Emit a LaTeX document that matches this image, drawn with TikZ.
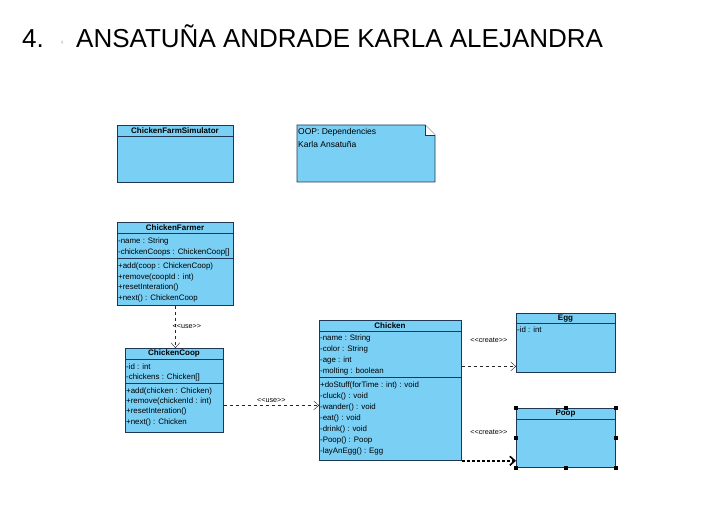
\documentclass[tikz,border=0pt]{standalone}
\usepackage{fontspec}
\setmainfont{Liberation Sans}
\usetikzlibrary{arrows.meta}
\definecolor{boxfill}{RGB}{122,207,245}
\definecolor{boxline}{RGB}{30,55,85}
\tikzset{
  umlbox/.style={draw=boxline, line width=0.8pt, fill=boxfill, anchor=north west, inner sep=0pt},
  member/.style={anchor=west, inner sep=0.5pt, font=\fontsize{7.9}{8}\selectfont},
  notetext/.style={anchor=west, inner sep=0.5pt, font=\fontsize{8.5}{9}\selectfont},
  header/.style={inner sep=0pt, font=\fontsize{8}{8}\selectfont\bfseries},
  stereo/.style={inner sep=0pt, font=\fontsize{7.2}{7}\selectfont},
  dep/.style={draw=black!85, dashed, -{Straight Barb[length=5pt,width=9pt]}},
  handle/.style={fill=black, minimum size=3.5pt, inner sep=0pt}
}
\newcommand{\stereotype}[1]{{<}{<}#1{>}{>}}
\begin{document}
\begin{tikzpicture}[x=1pt,y=-1pt]
\useasboundingbox (0,0) rectangle (713,513);
% title
\node[anchor=base west, inner sep=0pt, font=\fontsize{26}{30}\selectfont] (num) at (22,48) {4.};
\node[anchor=base west, inner sep=0pt, font=\fontsize{7}{8}\selectfont, text=black!45] (tick) at (61,45) {‹};
\node[anchor=base west, inner sep=0pt, font=\fontsize{26}{30}\selectfont] (title) at (76,48) {ANSATUÑA ANDRADE KARLA ALEJANDRA};

% ChickenFarmSimulator
\node[umlbox, minimum width=116pt, minimum height=57pt] (sim) at (117,125) {};
\draw[boxline, line width=0.8pt] (117,136) -- (233,136);
\node[header] (simname) at (175,130.5) {ChickenFarmSimulator};

% note
\draw[boxline, line width=0.8pt, fill=boxfill] (297,125) -- (425,125) -- (435,135) -- (435,182) -- (297,182) -- cycle;
\fill[white] (425,125) -- (425,135) -- (435,135) -- cycle;
\draw[boxline, line width=0.8pt] (425,125) -- (425,135) -- (435,135);
\node[notetext] (note1) at (297.5,132) {OOP: Dependencies};
\node[notetext] (note2) at (297.5,144) {Karla Ansatuña};

% ChickenFarmer
\node[umlbox, minimum width=116pt, minimum height=83pt] (farmer) at (117,222) {};
\draw[boxline, line width=0.8pt] (117,233) -- (233,233);
\draw[boxline, line width=0.8pt] (117,258) -- (233,258);
\node[header] (farmername) at (175,227.5) {ChickenFarmer};
\node[member] at (117.5,241) {-name : String};
\node[member] at (117.5,252) {-chickenCoops : ChickenCoop[]};
\node[member] at (117.5,266) {+add(coop : ChickenCoop)};
\node[member] at (117.5,277) {+remove(coopId : int)};
\node[member] at (117.5,287.5) {+resetInteration()};
\node[member] at (117.5,298) {+next() : ChickenCoop};

% ChickenCoop
\node[umlbox, minimum width=98pt, minimum height=84pt] (coop) at (125,348) {};
\draw[boxline, line width=0.8pt] (125,359) -- (223,359);
\draw[boxline, line width=0.8pt] (125,383) -- (223,383);
\node[header] (coopname) at (174,353.5) {ChickenCoop};
\node[member] at (125.5,367) {-id : int};
\node[member] at (125.5,377) {-chickens : Chicken[]};
\node[member] at (125.5,391) {+add(chicken : Chicken)};
\node[member] at (125.5,401) {+remove(chickenId : int)};
\node[member] at (125.5,411.5) {+resetInteration()};
\node[member] at (125.5,422) {+next() : Chicken};

% Chicken
\node[umlbox, minimum width=142pt, minimum height=140pt] (chicken) at (319,320) {};
\draw[boxline, line width=0.8pt] (319,331) -- (461,331);
\draw[boxline, line width=0.8pt] (319,377) -- (461,377);
\node[header] (chickenname) at (390,325.5) {Chicken};
\node[member] at (319.5,338.5) {-name : String};
\node[member] at (319.5,349.5) {-color : String};
\node[member] at (319.5,360) {-age : int};
\node[member] at (319.5,371) {-molting : boolean};
\node[member] at (319.5,385) {+doStuff(forTime : int) : void};
\node[member] at (319.5,396) {-cluck() : void};
\node[member] at (319.5,407) {-wander() : void};
\node[member] at (319.5,418) {-eat() : void};
\node[member] at (319.5,429) {-drink() : void};
\node[member] at (319.5,440) {-Poop() : Poop};
\node[member] at (319.5,451) {-layAnEgg() : Egg};

% Egg
\node[umlbox, minimum width=99pt, minimum height=59pt] (egg) at (516,313) {};
\draw[boxline, line width=0.8pt] (516,323) -- (615,323);
\node[header] (eggname) at (565.5,318.5) {Egg};
\node[member] at (516.5,330) {-id : int};

% Poop
\node[umlbox, minimum width=99pt, minimum height=59pt] (poop) at (516,408) {};
\draw[boxline, line width=0.8pt] (516,419) -- (615,419);
\node[header] (poopname) at (565.5,413.5) {Poop};
\foreach \h in {north west,north,north east,west,east,south west,south,south east}
  \node[handle] at (poop.\h) {};

% dependencies
\draw[dep] (farmer.south) -- (farmer.south |- coop.north)
  node[stereo, midway, right=-3pt] {\stereotype{use}};
\draw[dep] ([yshift=-15pt]coop.east) -- ([yshift=-15pt]coop.east -| chicken.west)
  node[stereo, midway, above=3pt] {\stereotype{use}};
\draw[dep] ([yshift=-23.5pt]egg.west -| chicken.east) -- ([yshift=-23.5pt]egg.west)
  node[stereo, midway, above=24pt] {\stereotype{create}};
\draw[black, line width=1.6pt, dash pattern=on 3pt off 2pt, -{Straight Barb[length=5pt,width=9pt,line width=1.6pt]}]
  (chicken.south east) -- (chicken.south east -| poop.west)
  node[stereo, midway, above=25pt] {\stereotype{create}};
\end{tikzpicture}
\end{document}
